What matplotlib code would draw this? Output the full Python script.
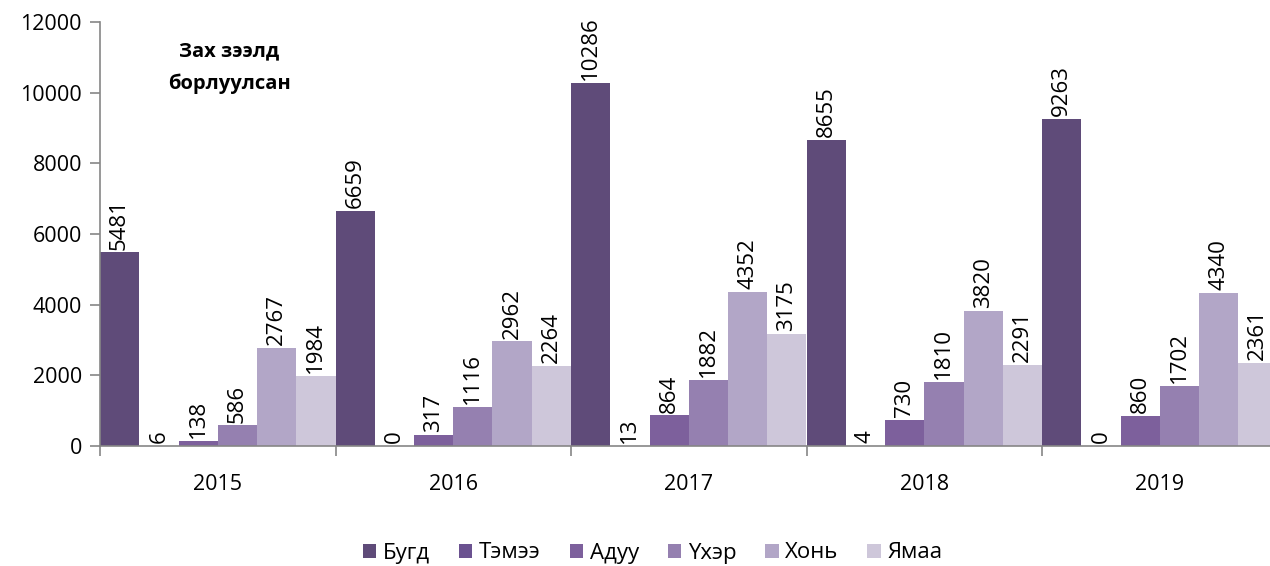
import matplotlib
matplotlib.use('Agg')
import matplotlib.pyplot as plt
import numpy as np

plt.rcParams['font.family'] = ['Open Sans', 'DejaVu Sans']

# data
years = ['2015', '2016', '2017', '2018', '2019']
series = ['Бугд', 'Тэмээ', 'Адуу', 'Үхэр', 'Хонь', 'Ямаа']
bugd = [5481, 6659, 10286, 8655, 9263]
temee = [6, 0, 13, 4, 0]
aduu = [138, 317, 864, 730, 860]
ukher = [586, 1116, 1882, 1810, 1702]
khoni = [2767, 2962, 4352, 3820, 4340]
yamaa = [1984, 2264, 3175, 2291, 2361]
values = [bugd, temee, aduu, ukher, khoni, yamaa]
colors = ['#5F4B79', '#6B5290', '#7D609C', '#9580B0', '#B2A6C7', '#CEC7DA']

fig = plt.figure(figsize=(12.7, 5.66), dpi=100)
ax = fig.add_axes([100 / 1270, 1 - 446 / 566, 1177.5 / 1270, 424 / 566])

x = np.arange(len(years))
w = 1 / len(series)
for i, (name, vals) in enumerate(zip(series, values)):
    pos = x + i * w + w / 2
    ax.bar(pos, vals, width=w, color=colors[i], label=name, zorder=2)
    for p, v in zip(pos, vals):
        ax.annotate(str(v), (p, v), xytext=(0, 2), textcoords='offset points',
                    ha='center', va='bottom', rotation=90, fontsize=16)

ax.set_xlim(0, len(years))
ax.set_ylim(0, 12000)
ax.set_yticks(range(0, 12001, 2000))
ax.set_xticks(range(len(years) + 1))
ax.set_xticklabels([])
ax.set_xticks(x + 0.5, minor=True)
ax.set_xticklabels(years, minor=True)
ax.tick_params(axis='x', which='minor', length=0, pad=20, labelsize=15.5)
ax.tick_params(axis='x', which='major', length=7, color='#868686', width=1.2)
ax.tick_params(axis='y', length=7, color='#868686', width=1.2, labelsize=15.5, pad=6)

for s in ['top', 'right']:
    ax.spines[s].set_visible(False)
for s in ['left', 'bottom']:
    ax.spines[s].set_color('#868686')
    ax.spines[s].set_linewidth(1.2)

ax.text(0.55, 10700, 'Зах зээлд\nборлуулсан', ha='center', va='center',
        fontsize=14.5, fontweight='bold', linespacing=1.8)

fig.legend(loc='center', bbox_to_anchor=(0.514, 1 - 553 / 566), ncol=6,
           frameon=False, fontsize=16, handlelength=0.6, handleheight=0.6,
           handletextpad=0.3, columnspacing=1.3)

fig.savefig('out.png', dpi=100)
